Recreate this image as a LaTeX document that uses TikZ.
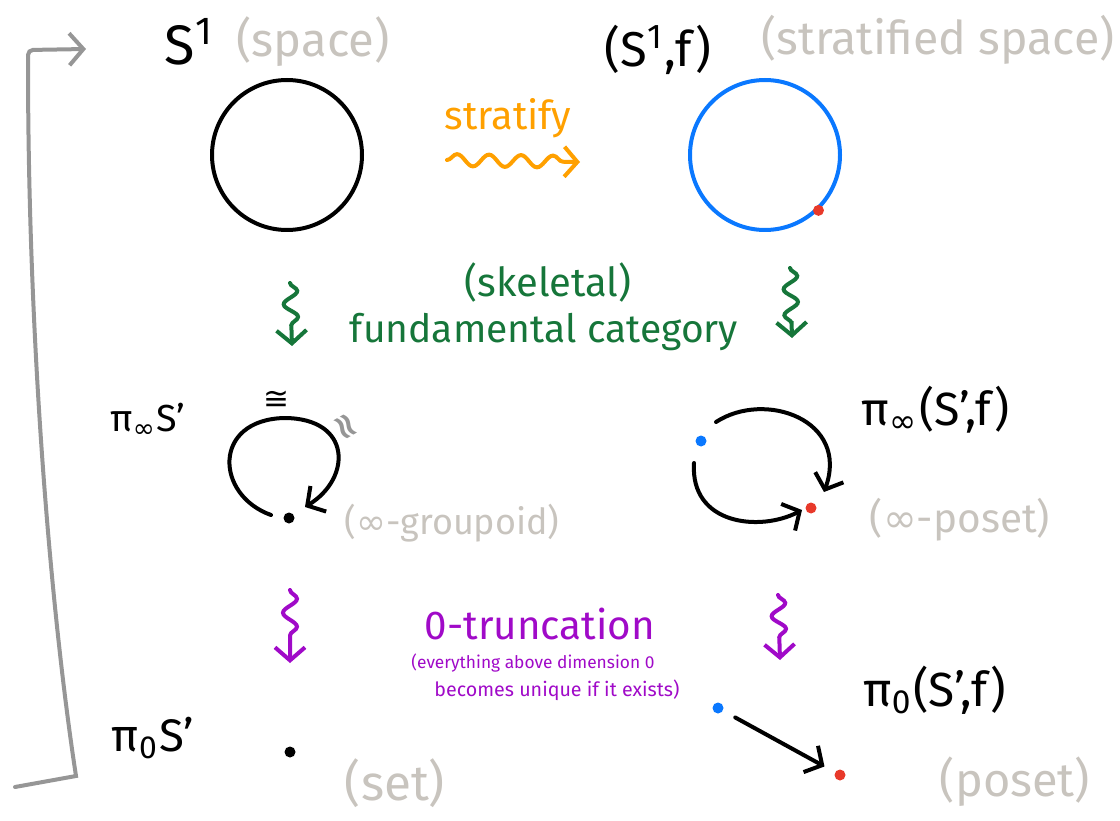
\documentclass[tikz,border=0pt]{standalone}
\usepackage{fontspec}
\setmainfont{Fira Sans}
\newfontfamily\symf{DejaVu Sans}
\usetikzlibrary{decorations.pathmorphing,arrows.meta}
\definecolor{lblgray}{RGB}{200,196,190}
\definecolor{brgray}{RGB}{150,150,150}
\definecolor{orng}{RGB}{255,160,0}
\definecolor{grn}{RGB}{22,118,58}
\definecolor{purp}{RGB}{160,10,200}
\definecolor{blu}{RGB}{10,120,255}
\definecolor{rd}{RGB}{232,57,42}
\newcommand{\fitw}[2]{\resizebox{#1pt}{!}{#2}}
\tikzset{
  lbl/.style={inner sep=0pt, text=black},
  glbl/.style={inner sep=0pt, text=lblgray},
  dot/.style={circle, inner sep=0pt, minimum size=11pt, draw=none},
  ring/.style={line width=4pt},
  barb/.style={-{Straight Barb[length=13pt,width=30pt]}},
  squig/.style={line width=4pt, decorate, line cap=round,
    decoration={snake, amplitude=6pt, segment length=32pt, post length=14pt}},
}
\begin{document}
\begin{tikzpicture}[x=1pt,y=-1pt]
\useasboundingbox (0,0) rectangle (1120,821);
% bracket
\coordinate (b0) at (15,787);
\coordinate (b1) at (76,776);
\coordinate (b2) at (28,50);
\coordinate (b3) at (86,49);
\draw[brgray, line width=4pt, line cap=round, -{Straight Barb[length=14pt,width=32pt]}]
  (b0) -- (b1) .. controls (52,620) and (28,350) .. (28,62) [rounded corners=5pt] -- (b2) -- (b3);
% top row
\node[lbl] (s1) at (190,42) {\fitw{50}{S\textsuperscript{1}}};
\node[glbl] (space) at (313,42) {\fitw{153}{(space)}};
\node[lbl] (s1f) at (658,50) {\fitw{107}{(S\textsuperscript{1},f)}};
\node[glbl] (strsp) at (938,40) {\fitw{353}{(stratified space)}};
\node[circle, draw=black, ring, minimum size=150pt, inner sep=0pt] (c1) at (287,155) {};
\node[circle, draw=blu, ring, minimum size=150pt, inner sep=0pt] (c2) at (765,155) {};
\node[dot, fill=rd] (r1) at (c2.-46) {};
\node[inner sep=0pt, text=orng] (strat) at (508,118) {\fitw{127}{stratify}};
\coordinate (sa) at (447,160);
\coordinate (sb) at (580,162);
\draw[orng, squig, barb] (sa) -- (sb);
% fundamental category
\coordinate (ga1) at (290,283);
\coordinate (gb1) at (292,346);
\coordinate (ga2) at (790,268);
\coordinate (gb2) at (792,338);
\draw[grn, squig, barb, decoration={amplitude=7pt, segment length=26pt}] (ga1) -- (gb1);
\draw[grn, squig, barb, decoration={amplitude=7pt, segment length=26pt}] (ga2) -- (gb2);
\node[inner sep=0pt, text=grn] (skel) at (548,283) {\fitw{167}{(skeletal)}};
\node[inner sep=0pt, text=grn] (fund) at (544,332) {\fitw{388}{fundamental category}};
% infinity groupoid
\node[lbl] (pis) at (148,420) {\fitw{75}{π\textsubscript{\symf ∞}S'}};
\node[lbl] (cong) at (276,400) {\fitw{26}{\symf ≅}};
\node[inner sep=0pt, text=brgray, rotate=-60] (approx) at (344,428) {\fitw{30}{\symf\bfseries ≈}};
\node[dot, fill=black] (d1) at (289,518) {};
\coordinate (l0) at (271,515);
\coordinate (l1) at (305,507);
\draw[black, ring, line cap=round, barb]
  (l0) .. controls (215,495) and (212,420) .. (284,418) .. controls (352,418) and (352,478) .. (l1);
\node[glbl] (grpd) at (452,523) {\fitw{215}{({\symf ∞}-groupoid)}};
% infinity poset
\node[dot, fill=blu] (bd1) at (701,441) {};
\node[dot, fill=rd] (rd1) at (811,508) {};
\coordinate (u0) at (716,422);
\coordinate (u1) at (824,492);
\coordinate (w0) at (694,463);
\coordinate (w1) at (802,510);
\draw[black, ring, line cap=round, barb] (u0) .. controls (765,390) and (850,420) .. (u1);
\draw[black, ring, line cap=round, barb] (w0) .. controls (690,525) and (760,532) .. (w1);
\node[lbl] (pisf) at (936,410) {\fitw{148}{π\textsubscript{\symf ∞}(S',f)}};
\node[glbl] (ipos) at (960,520) {\fitw{180}{({\symf ∞}-poset)}};
% truncation
\coordinate (pa1) at (290,590);
\coordinate (pb1) at (290,663);
\coordinate (pa2) at (778,595);
\coordinate (pb2) at (780,660);
\draw[purp, squig, barb, decoration={amplitude=7pt, segment length=28pt}] (pa1) -- (pb1);
\draw[purp, squig, barb, decoration={amplitude=7pt, segment length=26pt}] (pa2) -- (pb2);
\node[inner sep=0pt, text=purp] (trunc) at (540,624) {\fitw{230}{0-truncation}};
\node[inner sep=0pt, text=purp] (ev1) at (533,663) {\fitw{243}{(everything above dimension 0}};
\node[inner sep=0pt, text=purp] (ev2) at (557,690) {\fitw{245}{becomes unique if it exists)}};
% bottom row
\node[lbl] (pi0s) at (153,738) {\fitw{82}{π\textsubscript{0}S'}};
\node[dot, fill=black] (d2) at (290,752) {};
\node[glbl] (set) at (395,783) {\fitw{100}{(set)}};
\node[dot, fill=blu] (bd2) at (718,708) {};
\node[dot, fill=rd] (rd2) at (840,775) {};
\draw[black, ring, line cap=round, barb, shorten <=14pt, shorten >=12pt] (bd2) -- (rd2);
\node[lbl] (pi0sf) at (935,690) {\fitw{143}{π\textsubscript{0}(S',f)}};
\node[glbl] (poset) at (1015,782) {\fitw{150}{(poset)}};
\end{tikzpicture}
\end{document}
